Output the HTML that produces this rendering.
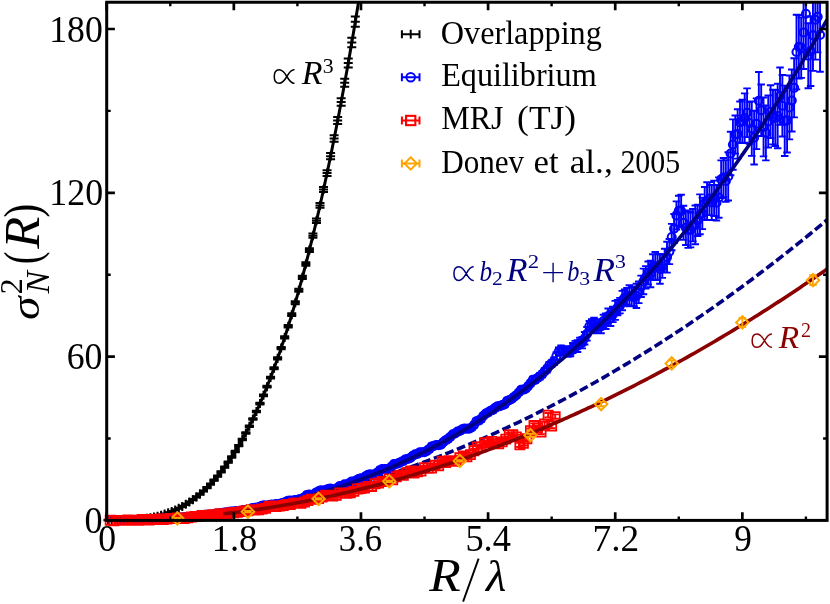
<!DOCTYPE html>
<html><head><meta charset="utf-8"><title>chart</title>
<style>html,body{margin:0;padding:0;background:#fff}svg{display:block;will-change:transform}</style>
</head><body>
<svg width="830" height="604" viewBox="0 0 830 604">
<rect width="830" height="604" fill="#fff"/>
<defs><clipPath id="ax"><rect x="106.7" y="2.24" width="720.4" height="518.16"/></clipPath></defs>
<polyline clip-path="url(#ax)" points="106.7,520.4 110.3,520.39 113.9,520.37 117.51,520.33 121.11,520.28 124.71,520.21 128.31,520.13 131.91,520.03 135.52,519.92 139.12,519.79 142.72,519.65 146.32,519.49 149.92,519.32 153.53,519.13 157.13,518.93 160.73,518.71 164.33,518.48 167.93,518.23 171.54,517.97 175.14,517.69 178.74,517.39 182.34,517.09 185.94,516.76 189.55,516.43 193.15,516.07 196.75,515.7 200.35,515.32 203.95,514.92 207.56,514.51 211.16,514.08 214.76,513.64 218.36,513.18 221.96,512.71 225.57,512.22 229.17,511.72 232.77,511.2 236.37,510.66 239.97,510.12 243.58,509.55 247.18,508.97 250.78,508.38 254.38,507.77 257.98,507.15 261.59,506.51 265.19,505.86 268.79,505.19 272.39,504.5 275.99,503.8 279.6,503.09 283.2,502.36 286.8,501.62 290.4,500.86 294,500.09 297.61,499.3 301.21,498.49 304.81,497.67 308.41,496.84 312.01,495.99 315.62,495.13 319.22,494.25 322.82,493.35 326.42,492.45 330.02,491.52 333.63,490.58 337.23,489.63 340.83,488.66 344.43,487.68 348.03,486.68 351.64,485.66 355.24,484.63 358.84,483.59 362.44,482.53 366.04,481.45 369.65,480.37 373.25,479.26 376.85,478.14 380.45,477.01 384.05,475.86 387.66,474.69 391.26,473.51 394.86,472.32 398.46,471.11 402.06,469.89 405.67,468.65 409.27,467.39 412.87,466.12 416.47,464.84 420.07,463.54 423.68,462.22 427.28,460.89 430.88,459.55 434.48,458.19 438.08,456.81 441.69,455.42 445.29,454.02 448.89,452.6 452.49,451.16 456.09,449.71 459.7,448.25 463.3,446.77 466.9,445.27 470.5,443.76 474.1,442.24 477.71,440.7 481.31,439.14 484.91,437.57 488.51,435.99 492.11,434.39 495.72,432.77 499.32,431.14 502.92,429.5 506.52,427.84 510.12,426.16 513.73,424.47 517.33,422.77 520.93,421.05 524.53,419.31 528.13,417.56 531.74,415.79 535.34,414.01 538.94,412.22 542.54,410.41 546.14,408.58 549.75,406.74 553.35,404.89 556.95,403.02 560.55,401.13 564.15,399.23 567.76,397.31 571.36,395.38 574.96,393.44 578.56,391.48 582.16,389.5 585.77,387.51 589.37,385.5 592.97,383.48 596.57,381.45 600.17,379.4 603.78,377.33 607.38,375.25 610.98,373.15 614.58,371.04 618.18,368.92 621.79,366.78 625.39,364.62 628.99,362.45 632.59,360.26 636.19,358.06 639.8,355.84 643.4,353.61 647,351.37 650.6,349.11 654.2,346.83 657.81,344.54 661.41,342.23 665.01,339.91 668.61,337.57 672.21,335.22 675.82,332.86 679.42,330.47 683.02,328.08 686.62,325.67 690.22,323.24 693.83,320.8 697.43,318.34 701.03,315.87 704.63,313.38 708.23,310.88 711.84,308.37 715.44,305.83 719.04,303.29 722.64,300.72 726.24,298.15 729.85,295.56 733.45,292.95 737.05,290.33 740.65,287.69 744.25,285.04 747.86,282.37 751.46,279.69 755.06,276.99 758.66,274.28 762.26,271.55 765.87,268.81 769.47,266.05 773.07,263.28 776.67,260.5 780.27,257.69 783.88,254.88 787.48,252.04 791.08,249.2 794.68,246.33 798.28,243.46 801.89,240.56 805.49,237.66 809.09,234.73 812.69,231.8 816.29,228.84 819.9,225.88 823.5,222.89 827.1,219.9" fill="none" stroke="#000080" stroke-width="3.6" stroke-dasharray="8.8 3.6"/>
<path clip-path="url(#ax)" d="M108.11 519.8V521M111.64 519.8V521M115.18 519.78V520.98M118.71 519.74V520.94M122.24 519.68V520.88M125.77 519.57V520.77M129.3 519.43V520.63M132.83 519.22V520.42M136.36 518.95V520.15M139.89 518.61V519.81M143.43 518.19V519.39M146.96 517.68V518.88M150.49 517.07V518.27M154.02 516.36V517.56M157.55 515.53V516.73M161.08 514.58V515.78M164.61 513.49V514.7M168.15 512.27V513.47M171.68 510.89V512.1M175.21 509.36V510.57M178.74 507.66V508.87M182.27 505.79V506.99M185.8 503.73V504.94M189.33 501.48V502.69M192.87 499.03V500.24M196.4 496.37V497.59M199.93 493.49V494.71M203.46 490.38V491.61M206.99 487.04V488.28M210.52 483.45V484.7M214.05 479.61V480.87M217.59 475.51V476.78M221.12 471.14V472.43M224.65 466.49V467.79M228.18 461.55V462.87M231.71 456.31V457.66M235.24 450.77V452.15M238.77 444.92V446.32M242.3 438.74V440.18M245.84 432.23V433.71M249.37 425.38V426.91M252.9 418.18V419.76M256.43 410.63V412.26M259.96 402.7V404.4M263.49 394.4V396.17M267.02 385.71V387.57M270.56 376.63V378.58M274.09 367.15V369.19M277.62 357.25V359.41M281.15 346.94V349.22M284.68 336.19V338.61M288.21 325V327.58M291.74 313.37V316.11M295.28 301.27V304.2M298.81 288.71V291.84M302.34 275.68V279.03M305.87 262.15V265.75M309.4 248.14V252M312.93 233.61V237.77M316.46 218.58V223.05M319.99 203.02V207.84M323.53 186.93V192.12M327.06 170.29V175.89M330.59 153.11V159.14M334.12 135.36V141.87M337.65 117.04V124.07M341.18 98.14V105.72M344.71 78.65V86.83M348.25 58.55V67.38M351.78 37.85V47.37M355.31 16.52V26.79" stroke="#000" stroke-width="1.9" fill="none"/>
<path d="M103.61 519.8h9M107.14 519.8h9M110.68 519.78h9M114.21 519.74h9M117.74 519.68h9M121.27 519.57h9M124.8 519.43h9M128.33 519.22h9M131.86 518.95h9M131.86 520.15h9M135.39 518.61h9M135.39 519.81h9M138.93 518.19h9M138.93 519.39h9M142.46 517.68h9M142.46 518.88h9M145.99 517.07h9M145.99 518.27h9M149.52 516.36h9M149.52 517.56h9M153.05 515.53h9M153.05 516.73h9M156.58 514.58h9M156.58 515.78h9M160.11 513.49h9M160.11 514.7h9M163.65 512.27h9M163.65 513.47h9M167.18 510.89h9M167.18 512.1h9M170.71 509.36h9M170.71 510.57h9M174.24 507.66h9M174.24 508.87h9M177.77 505.79h9M177.77 506.99h9M181.3 503.73h9M181.3 504.94h9M184.83 501.48h9M184.83 502.69h9M188.37 499.03h9M188.37 500.24h9M191.9 496.37h9M191.9 497.59h9M195.43 493.49h9M195.43 494.71h9M198.96 490.38h9M198.96 491.61h9M202.49 487.04h9M202.49 488.28h9M206.02 483.45h9M206.02 484.7h9M209.55 479.61h9M209.55 480.87h9M213.09 475.51h9M213.09 476.78h9M216.62 471.14h9M216.62 472.43h9M220.15 466.49h9M220.15 467.79h9M223.68 461.55h9M223.68 462.87h9M227.21 456.31h9M227.21 457.66h9M230.74 450.77h9M230.74 452.15h9M234.27 444.92h9M234.27 446.32h9M237.8 438.74h9M237.8 440.18h9M241.34 432.23h9M241.34 433.71h9M244.87 425.38h9M244.87 426.91h9M248.4 418.18h9M248.4 419.76h9M251.93 410.63h9M251.93 412.26h9M255.46 402.7h9M255.46 404.4h9M258.99 394.4h9M258.99 396.17h9M262.52 385.71h9M262.52 387.57h9M266.06 376.63h9M266.06 378.58h9M269.59 367.15h9M269.59 369.19h9M273.12 357.25h9M273.12 359.41h9M276.65 346.94h9M276.65 349.22h9M280.18 336.19h9M280.18 338.61h9M283.71 325h9M283.71 327.58h9M287.24 313.37h9M287.24 316.11h9M290.78 301.27h9M290.78 304.2h9M294.31 288.71h9M294.31 291.84h9M297.84 275.68h9M297.84 279.03h9M301.37 262.15h9M301.37 265.75h9M304.9 248.14h9M304.9 252h9M308.43 233.61h9M308.43 237.77h9M311.96 218.58h9M311.96 223.05h9M315.49 203.02h9M315.49 207.84h9M319.03 186.93h9M319.03 192.12h9M322.56 170.29h9M322.56 175.89h9M326.09 153.11h9M326.09 159.14h9M329.62 135.36h9M329.62 141.87h9M333.15 117.04h9M333.15 124.07h9M336.68 98.14h9M336.68 105.72h9M340.21 78.65h9M340.21 86.83h9M343.75 58.55h9M343.75 67.38h9M347.28 37.85h9M347.28 47.37h9M350.81 16.52h9M350.81 26.79h9" stroke="#000" stroke-width="2.0" fill="none"/>
<path d="M103.61 520.4h9M108.11 515.9v9M107.14 520.4h9M111.64 515.9v9M110.68 520.38h9M115.18 515.88v9M114.21 520.34h9M118.71 515.84v9M117.74 520.28h9M122.24 515.78v9M121.27 520.17h9M125.77 515.67v9M124.8 520.03h9M129.3 515.53v9M128.33 519.82h9M132.83 515.32v9M131.86 519.55h9M136.36 515.05v9M135.39 519.21h9M139.89 514.71v9M138.93 518.79h9M143.43 514.29v9M142.46 518.28h9M146.96 513.78v9M145.99 517.67h9M150.49 513.17v9M149.52 516.96h9M154.02 512.46v9M153.05 516.13h9M157.55 511.63v9M156.58 515.18h9M161.08 510.68v9M160.11 514.09h9M164.61 509.59v9M163.65 512.87h9M168.15 508.37v9M167.18 511.5h9M171.68 507v9M170.71 509.96h9M175.21 505.46v9M174.24 508.26h9M178.74 503.76v9M177.77 506.39h9M182.27 501.89v9M181.3 504.33h9M185.8 499.83v9M184.83 502.08h9M189.33 497.58v9M188.37 499.64h9M192.87 495.14v9M191.9 496.98h9M196.4 492.48v9M195.43 494.1h9M199.93 489.6v9M198.96 491h9M203.46 486.5v9M202.49 487.66h9M206.99 483.16v9M206.02 484.08h9M210.52 479.58v9M209.55 480.24h9M214.05 475.74v9M213.09 476.15h9M217.59 471.65v9M216.62 471.78h9M221.12 467.28v9M220.15 467.14h9M224.65 462.64v9M223.68 462.21h9M228.18 457.71v9M227.21 456.99h9M231.71 452.49v9M230.74 451.46h9M235.24 446.96v9M234.27 445.62h9M238.77 441.12v9M237.8 439.46h9M242.3 434.96v9M241.34 432.97h9M245.84 428.47v9M244.87 426.14h9M249.37 421.64v9M248.4 418.97h9M252.9 414.47v9M251.93 411.44h9M256.43 406.94v9M255.46 403.55h9M259.96 399.05v9M258.99 395.28h9M263.49 390.78v9M262.52 386.64h9M267.02 382.14v9M266.06 377.6h9M270.56 373.1v9M269.59 368.17h9M274.09 363.67v9M273.12 358.33h9M277.62 353.83v9M276.65 348.08h9M281.15 343.58v9M280.18 337.4h9M284.68 332.9v9M283.71 326.29h9M288.21 321.79v9M287.24 314.74h9M291.74 310.24v9M290.78 302.74h9M295.28 298.24v9M294.31 290.28h9M298.81 285.78v9M297.84 277.35h9M302.34 272.85v9M301.37 263.95h9M305.87 259.45v9M304.9 250.07h9M309.4 245.57v9M308.43 235.69h9M312.93 231.19v9M311.96 220.81h9M316.46 216.31v9M315.49 205.43h9M319.99 200.93v9M319.03 189.52h9M323.53 185.02v9M322.56 173.09h9M327.06 168.59v9M326.09 156.13h9M330.59 151.63v9M329.62 138.62h9M334.12 134.12v9M333.15 120.55h9M337.65 116.05v9M336.68 101.93h9M341.18 97.43v9M340.21 82.74h9M344.71 78.24v9M343.75 62.96h9M348.25 58.46v9M347.28 42.61h9M351.78 38.11v9M350.81 21.65h9M355.31 17.15v9" stroke="#000" stroke-width="2" fill="none"/>
<polyline clip-path="url(#ax)" points="106.7,520.4 107.97,520.4 109.24,520.4 110.51,520.4 111.79,520.4 113.06,520.39 114.33,520.39 115.6,520.38 116.87,520.37 118.14,520.35 119.41,520.33 120.68,520.31 121.96,520.28 123.23,520.25 124.5,520.22 125.77,520.17 127.04,520.13 128.31,520.07 129.58,520.01 130.85,519.94 132.13,519.87 133.4,519.78 134.67,519.69 135.94,519.59 137.21,519.48 138.48,519.36 139.75,519.23 141.02,519.09 142.3,518.94 143.57,518.77 144.84,518.6 146.11,518.41 147.38,518.21 148.65,518 149.92,517.78 151.2,517.54 152.47,517.29 153.74,517.02 155.01,516.74 156.28,516.44 157.55,516.13 158.82,515.8 160.09,515.46 161.37,515.1 162.64,514.72 163.91,514.32 165.18,513.91 166.45,513.48 167.72,513.02 168.99,512.55 170.26,512.06 171.54,511.55 172.81,511.02 174.08,510.47 175.35,509.9 176.62,509.3 177.89,508.69 179.16,508.05 180.44,507.39 181.71,506.7 182.98,505.99 184.25,505.26 185.52,504.51 186.79,503.72 188.06,502.92 189.33,502.08 190.61,501.23 191.88,500.34 193.15,499.43 194.42,498.49 195.69,497.52 196.96,496.53 198.23,495.51 199.5,494.46 200.78,493.38 202.05,492.26 203.32,491.12 204.59,489.95 205.86,488.75 207.13,487.52 208.4,486.25 209.67,484.96 210.95,483.63 212.22,482.27 213.49,480.87 214.76,479.44 216.03,477.98 217.3,476.48 218.57,474.95 219.85,473.38 221.12,471.78 222.39,470.14 223.66,468.47 224.93,466.76 226.2,465.01 227.47,463.22 228.74,461.4 230.02,459.53 231.29,457.63 232.56,455.69 233.83,453.71 235.1,451.69 236.37,449.63 237.64,447.52 238.91,445.38 240.19,443.2 241.46,440.97 242.73,438.7 244,436.39 245.27,434.03 246.54,431.63 247.81,429.19 249.08,426.7 250.36,424.17 251.63,421.59 252.9,418.97 254.17,416.3 255.44,413.59 256.71,410.82 257.98,408.01 259.26,405.16 260.53,402.25 261.8,399.3 263.07,396.3 264.34,393.24 265.61,390.14 266.88,386.99 268.15,383.79 269.43,380.54 270.7,377.23 271.97,373.88 273.24,370.47 274.51,367.01 275.78,363.5 277.05,359.93 278.32,356.31 279.6,352.64 280.87,348.91 282.14,345.13 283.41,341.29 284.68,337.4 285.95,333.45 287.22,329.44 288.5,325.38 289.77,321.26 291.04,317.08 292.31,312.85 293.58,308.55 294.85,304.2 296.12,299.79 297.39,295.32 298.67,290.79 299.94,286.19 301.21,281.54 302.48,276.83 303.75,272.05 305.02,267.21 306.29,262.31 307.56,257.35 308.84,252.32 310.11,247.23 311.38,242.08 312.65,236.86 313.92,231.58 315.19,226.23 316.46,220.81 317.73,215.33 319.01,209.79 320.28,204.17 321.55,198.49 322.82,192.75 324.09,186.93 325.36,181.05 326.63,175.09 327.91,169.07 329.18,162.98 330.45,156.81 331.72,150.58 332.99,144.28 334.26,137.9 335.53,131.46 336.8,124.94 338.08,118.35 339.35,111.68 340.62,104.95 341.89,98.14 343.16,91.25 344.43,84.29 345.7,77.26 346.97,70.15 348.25,62.96 349.52,55.7 350.79,48.37 352.06,40.95 353.33,33.46 354.6,25.89 355.87,18.25 357.14,10.52 358.42,2.72 359.69,-5.17 360.96,-13.13" fill="none" stroke="#000" stroke-width="3.0"/>
<path clip-path="url(#ax)" d="M109.05 517.96V523.09M111.41 517.99V523.13M113.76 518.23V522.94M116.12 517.62V523.27M118.47 518.12V522.68M120.83 517.95V522.43M123.18 517.51V522.95M125.53 517.99V522.43M127.89 517.81V522.52M130.24 517.64V522.78M132.6 517.62V522.85M134.95 517.41V522.86M137.31 516.95V522.92M139.66 517.07V522.6M142.01 517.24V522.11M144.37 517.14V522.18M146.72 516.6V522.51M149.08 517.08V521.83M151.43 516.37V522.31M153.78 516.63V522.03M156.14 516.81V521.36M158.49 516.22V521.83M160.85 516.51V521.09M163.2 516.49V521.19M165.56 516.36V521.08M167.91 515.7V521.12M170.26 515.75V520.5M172.62 515.17V520.84M174.97 515.68V520.43M177.33 514.9V520.33M179.68 515.11V519.86M182.04 514.99V519.92M184.39 515.11V519.67M186.74 514.41V519.77M189.1 514.06V519.97M191.45 513.81V519.58M193.81 513.71V519.55M196.16 514.23V518.95M198.52 513.64V518.37M200.87 513.02V518.38M203.22 513.24V517.72M205.58 512.16V517.68M207.93 512.21V517.56M210.29 511.85V517.4M212.64 511.89V517.18M215 511.66V516.52M217.35 511.38V515.83M219.7 511.04V515.56M222.06 510.29V515.61M224.41 509.71V515.52M226.77 509.7V515.2M229.12 509.45V513.92M231.48 508.72V514.23M233.83 508.82V514.23M236.18 508.66V513.58M238.54 508.6V513.87M240.89 508.17V513.74M243.25 507.23V513.08M245.6 507.03V512.86M247.95 506.49V512.15M250.31 506.17V511.57M252.66 505.35V510.72M255.02 504.72V510.69M257.37 504.96V509.99M259.73 504.31V509.41M262.08 503.04V508.63M264.43 502.64V507.81M266.79 503.78V508.97M269.14 502.7V507.52M271.5 501.73V507.21M273.85 501.81V507.65M276.21 501.03V506.84M278.56 502V506.73M280.91 500.61V506.45M283.27 500.01V505.34M285.62 499.37V504.57M287.98 497.92V503.45M290.33 498.28V502.96M292.69 498.31V503.07M295.04 497.55V502.74M297.39 496.96V502.92M299.75 496.79V501.26M302.1 496.02V501.54M304.46 494.51V500.16M306.81 492.57V497.7M309.17 492.18V496.97M311.52 492.35V497.76M313.87 491.57V497.02M316.23 489.73V495.22M318.58 488.89V493.59M320.94 487.64V493.17M323.29 488.31V493.27M325.65 487.42V492.8M328 486.14V491.79M330.35 485.6V491.47M332.71 486.99V492.12M335.06 487.53V492.53M337.42 485.03V490.69M339.77 483.45V488.88M342.12 484.22V489.91M344.48 482.03V486.78M346.83 482.22V488.17M349.19 480.73V485.65M351.54 479.16V484.12M353.9 478.82V484.1M356.25 478.27V482.73M358.6 476.3V481.97M360.96 475.41V481.06M363.31 475.76V480.99M365.67 473.49V478.99M368.02 471.91V477.81M370.38 471.63V476.87M372.73 472.7V478.11M375.08 471.4V476.69M377.44 469.71V475.45M379.79 467.52V473.27M382.15 466.4V471.72M384.5 466.33V471.53M386.86 466.03V471.96M389.21 466.11V471.78M391.56 463.77V469.27M393.92 461.62V466.68M396.27 461.56V466.4M398.63 460.56V465.66M400.98 459.43V464.6M403.34 458.15V463.53M405.69 456.44V462.08M408.04 456.48V461.25M410.4 455.45V460.42M412.75 452.93V458.49M415.11 451.87V456.68M417.46 451.4V456.5M419.82 449.78V455.03M422.17 449.52V454.93M424.52 449.25V455M426.88 448.46V453.24M429.23 446.23V452.06M431.59 443.55V449.4M433.94 442.98V448.79M436.29 442.22V447.78M438.65 442.31V448.02M441 442.33V446.94M443.36 439.86V444.31M445.71 437.37V443.21M448.07 436.28V441.48M450.42 434.03V439.52M452.77 431.93V436.52M455.13 430.89V436.11M457.48 429.22V433.93M459.84 427.91V433.88M462.19 426.95V431.47M464.55 425.79V431.4M466.9 426.18V431.4M469.25 426.38V430.82M471.61 425.13V429.83M473.96 422.44V427.49M476.32 418.6V423.82M478.67 417.83V423.5M481.03 416.34V421.75M483.38 413.17V418.37M485.73 411.19V416.01M488.09 409.68V415.32M490.44 407.84V413.66M492.8 407.07V412.69M495.15 405.13V410.68M497.51 403.79V408.94M499.86 403.41V408.83M502.21 402.22V408.11M504.57 401.61V407.06M506.92 398.58V403.6M509.28 397.34V402.85M511.63 396.77V401.22M513.98 394.53V399.35M516.34 392.82V397.54M518.69 390.15V394.96M521.05 387.11V392.32M523.4 386.64V392.61M525.76 386.49V391.1M528.11 383.73V388.43M530.46 380.57V386.16M532.82 376.79V382.81M535.17 376.99V382.87M537.53 374.96V380.93M539.88 372.98V379.53M542.24 371.08V377.32M544.59 368.31V374.23M546.94 365.71V372.57M549.3 362.06V368.39M551.65 360.08V366.67M554.01 357.39V365.13M556.36 352.1V360.21M558.72 347.45V355.68M561.07 345.39V354.22M563.42 346.32V355.04M565.78 346.29V355.48M568.13 346.88V356.76M570.49 346.38V356.31M572.84 342.97V353.06M575.2 340.91V351.93M577.55 340.1V351.96M579.9 337.7V348.17M582.26 336.86V348.34M584.61 332.04V344.53M586.97 326.99V340.66M589.32 320.99V331.59M591.68 319.08V331.46M594.03 317.77V330.98M596.38 319.28V333.42M598.74 319.8V333.09M601.09 319.65V333.2M603.45 314.73V327.49M605.8 313.33V328.94M608.15 308.54V323.67M610.51 310.67V325.96M612.86 306.58V322.1M615.22 300.91V319.87M617.57 300.04V315.25M619.93 297.85V313.42M622.28 290.89V310.19M624.63 289.41V305.82M626.99 287.84V304.73M629.34 285.26V306.26M631.7 286.52V306.04M634.05 287.88V306.42M636.41 283.72V307.94M638.76 281.44V303.12M641.11 275.66V296.98M643.47 268.59V294.29M645.82 266.08V288.54M648.18 261.47V284.51M650.53 260.76V287.2M652.89 254.26V279.45M655.24 251.96V280.01M657.59 254.18V279.93M659.95 254.05V283.8M662.3 254.83V277.92M664.66 248.79V272.46M667.01 241.79V272.6M669.37 239.07V264.08M671.72 223.9V250.23M674.07 213.96V243.15M676.43 201.36V229.44M678.78 195.74V225.72M681.14 194.73V227.19M683.49 205.7V239.83M685.85 210.49V245.01M688.2 211.31V247.89M690.55 212.63V247.41M692.91 208.95V241.42M695.26 205.45V244.27M697.62 204.81V236.16M699.97 194.35V234.27M702.32 197.62V229.08M704.68 187.03V219.72M707.03 182.3V220M709.39 182.15V215.14M711.74 184.97V219.95M714.1 180.63V216.06M716.45 185.05V220.45M718.8 177.35V217.82M721.16 160.41V198.04M723.51 158.05V197.29M725.87 160.17V201.81M728.22 152.29V200.53M730.58 131.69V175.27M732.93 119.36V169.73M735.28 115.53V153.59M737.64 109.28V158.63M739.99 101.48V142.77M742.35 99.6V142.97M744.7 93.35V142.78M747.06 88.36V137.08M749.41 102.16V143.8M751.76 101.33V155.86M754.12 110.74V164.51M756.47 98.35V149.13M758.83 71.97V129.61M761.18 84.47V136M763.54 97.51V156.41M765.89 105.48V160.36M768.24 95.41V147.56M770.6 85.28V138.12M772.95 89.79V144.34M775.31 90.02V145.99M777.66 83.76V148.22M780.02 67.5V124.84M782.37 74.93V136.5M784.72 85.66V156M787.08 88.13V152.5M789.43 75.55V139.41M791.79 69.54V131.49M794.14 58.28V117.39M796.49 14.7V89.39M798.85 15.06V78.53M801.2 17.38V77.88M803.56 -4.1V68.97M805.91 -24.61V52.2M808.27 23.3V88.24M810.62 16.24V85.98M812.97 -0.26V70.91M815.33 -20.09V59.61M817.68 -18.66V52.38M820.04 -1.87V71.74" stroke="#00f" stroke-width="1.9" fill="none"/>
<path d="M105.3 517.96h7.5M107.66 517.99h7.5M110.01 518.23h7.5M112.37 517.62h7.5M114.72 518.12h7.5M117.08 517.95h7.5M119.43 517.51h7.5M121.78 517.99h7.5M124.14 517.81h7.5M126.49 517.64h7.5M128.85 517.62h7.5M131.2 517.41h7.5M133.56 516.95h7.5M135.91 517.07h7.5M138.26 517.24h7.5M140.62 517.14h7.5M142.97 516.6h7.5M145.33 517.08h7.5M147.68 516.37h7.5M150.03 516.63h7.5M152.39 516.81h7.5M154.74 516.22h7.5M157.1 516.51h7.5M159.45 516.49h7.5M161.81 516.36h7.5M164.16 515.7h7.5M166.51 515.75h7.5M168.87 515.17h7.5M171.22 515.68h7.5M173.58 514.9h7.5M173.58 520.33h7.5M175.93 515.11h7.5M175.93 519.86h7.5M178.29 514.99h7.5M178.29 519.92h7.5M180.64 515.11h7.5M180.64 519.67h7.5M182.99 514.41h7.5M182.99 519.77h7.5M185.35 514.06h7.5M185.35 519.97h7.5M187.7 513.81h7.5M187.7 519.58h7.5M190.06 513.71h7.5M190.06 519.55h7.5M192.41 514.23h7.5M192.41 518.95h7.5M194.77 513.64h7.5M194.77 518.37h7.5M197.12 513.02h7.5M197.12 518.38h7.5M199.47 513.24h7.5M199.47 517.72h7.5M201.83 512.16h7.5M201.83 517.68h7.5M204.18 512.21h7.5M204.18 517.56h7.5M206.54 511.85h7.5M206.54 517.4h7.5M208.89 511.89h7.5M208.89 517.18h7.5M211.25 511.66h7.5M211.25 516.52h7.5M213.6 511.38h7.5M213.6 515.83h7.5M215.95 511.04h7.5M215.95 515.56h7.5M218.31 510.29h7.5M218.31 515.61h7.5M220.66 509.71h7.5M220.66 515.52h7.5M223.02 509.7h7.5M223.02 515.2h7.5M225.37 509.45h7.5M225.37 513.92h7.5M227.73 508.72h7.5M227.73 514.23h7.5M230.08 508.82h7.5M230.08 514.23h7.5M232.43 508.66h7.5M232.43 513.58h7.5M234.79 508.6h7.5M234.79 513.87h7.5M237.14 508.17h7.5M237.14 513.74h7.5M239.5 507.23h7.5M239.5 513.08h7.5M241.85 507.03h7.5M241.85 512.86h7.5M244.2 506.49h7.5M244.2 512.15h7.5M246.56 506.17h7.5M246.56 511.57h7.5M248.91 505.35h7.5M248.91 510.72h7.5M251.27 504.72h7.5M251.27 510.69h7.5M253.62 504.96h7.5M253.62 509.99h7.5M255.98 504.31h7.5M255.98 509.41h7.5M258.33 503.04h7.5M258.33 508.63h7.5M260.68 502.64h7.5M260.68 507.81h7.5M263.04 503.78h7.5M263.04 508.97h7.5M265.39 502.7h7.5M265.39 507.52h7.5M267.75 501.73h7.5M267.75 507.21h7.5M270.1 501.81h7.5M270.1 507.65h7.5M272.46 501.03h7.5M272.46 506.84h7.5M274.81 502h7.5M274.81 506.73h7.5M277.16 500.61h7.5M277.16 506.45h7.5M279.52 500.01h7.5M279.52 505.34h7.5M281.87 499.37h7.5M281.87 504.57h7.5M284.23 497.92h7.5M284.23 503.45h7.5M286.58 498.28h7.5M286.58 502.96h7.5M288.94 498.31h7.5M288.94 503.07h7.5M291.29 497.55h7.5M291.29 502.74h7.5M293.64 496.96h7.5M293.64 502.92h7.5M296 496.79h7.5M296 501.26h7.5M298.35 496.02h7.5M298.35 501.54h7.5M300.71 494.51h7.5M300.71 500.16h7.5M303.06 492.57h7.5M303.06 497.7h7.5M305.42 492.18h7.5M305.42 496.97h7.5M307.77 492.35h7.5M307.77 497.76h7.5M310.12 491.57h7.5M310.12 497.02h7.5M312.48 489.73h7.5M312.48 495.22h7.5M314.83 488.89h7.5M314.83 493.59h7.5M317.19 487.64h7.5M317.19 493.17h7.5M319.54 488.31h7.5M319.54 493.27h7.5M321.9 487.42h7.5M321.9 492.8h7.5M324.25 486.14h7.5M324.25 491.79h7.5M326.6 485.6h7.5M326.6 491.47h7.5M328.96 486.99h7.5M328.96 492.12h7.5M331.31 487.53h7.5M331.31 492.53h7.5M333.67 485.03h7.5M333.67 490.69h7.5M336.02 483.45h7.5M336.02 488.88h7.5M338.37 484.22h7.5M338.37 489.91h7.5M340.73 482.03h7.5M340.73 486.78h7.5M343.08 482.22h7.5M343.08 488.17h7.5M345.44 480.73h7.5M345.44 485.65h7.5M347.79 479.16h7.5M347.79 484.12h7.5M350.15 478.82h7.5M350.15 484.1h7.5M352.5 478.27h7.5M352.5 482.73h7.5M354.85 476.3h7.5M354.85 481.97h7.5M357.21 475.41h7.5M357.21 481.06h7.5M359.56 475.76h7.5M359.56 480.99h7.5M361.92 473.49h7.5M361.92 478.99h7.5M364.27 471.91h7.5M364.27 477.81h7.5M366.63 471.63h7.5M366.63 476.87h7.5M368.98 472.7h7.5M368.98 478.11h7.5M371.33 471.4h7.5M371.33 476.69h7.5M373.69 469.71h7.5M373.69 475.45h7.5M376.04 467.52h7.5M376.04 473.27h7.5M378.4 466.4h7.5M378.4 471.72h7.5M380.75 466.33h7.5M380.75 471.53h7.5M383.11 466.03h7.5M383.11 471.96h7.5M385.46 466.11h7.5M385.46 471.78h7.5M387.81 463.77h7.5M387.81 469.27h7.5M390.17 461.62h7.5M390.17 466.68h7.5M392.52 461.56h7.5M392.52 466.4h7.5M394.88 460.56h7.5M394.88 465.66h7.5M397.23 459.43h7.5M397.23 464.6h7.5M399.59 458.15h7.5M399.59 463.53h7.5M401.94 456.44h7.5M401.94 462.08h7.5M404.29 456.48h7.5M404.29 461.25h7.5M406.65 455.45h7.5M406.65 460.42h7.5M409 452.93h7.5M409 458.49h7.5M411.36 451.87h7.5M411.36 456.68h7.5M413.71 451.4h7.5M413.71 456.5h7.5M416.07 449.78h7.5M416.07 455.03h7.5M418.42 449.52h7.5M418.42 454.93h7.5M420.77 449.25h7.5M420.77 455h7.5M423.13 448.46h7.5M423.13 453.24h7.5M425.48 446.23h7.5M425.48 452.06h7.5M427.84 443.55h7.5M427.84 449.4h7.5M430.19 442.98h7.5M430.19 448.79h7.5M432.54 442.22h7.5M432.54 447.78h7.5M434.9 442.31h7.5M434.9 448.02h7.5M437.25 442.33h7.5M437.25 446.94h7.5M439.61 439.86h7.5M439.61 444.31h7.5M441.96 437.37h7.5M441.96 443.21h7.5M444.32 436.28h7.5M444.32 441.48h7.5M446.67 434.03h7.5M446.67 439.52h7.5M449.02 431.93h7.5M449.02 436.52h7.5M451.38 430.89h7.5M451.38 436.11h7.5M453.73 429.22h7.5M453.73 433.93h7.5M456.09 427.91h7.5M456.09 433.88h7.5M458.44 426.95h7.5M458.44 431.47h7.5M460.8 425.79h7.5M460.8 431.4h7.5M463.15 426.18h7.5M463.15 431.4h7.5M465.5 426.38h7.5M465.5 430.82h7.5M467.86 425.13h7.5M467.86 429.83h7.5M470.21 422.44h7.5M470.21 427.49h7.5M472.57 418.6h7.5M472.57 423.82h7.5M474.92 417.83h7.5M474.92 423.5h7.5M477.28 416.34h7.5M477.28 421.75h7.5M479.63 413.17h7.5M479.63 418.37h7.5M481.98 411.19h7.5M481.98 416.01h7.5M484.34 409.68h7.5M484.34 415.32h7.5M486.69 407.84h7.5M486.69 413.66h7.5M489.05 407.07h7.5M489.05 412.69h7.5M491.4 405.13h7.5M491.4 410.68h7.5M493.76 403.79h7.5M493.76 408.94h7.5M496.11 403.41h7.5M496.11 408.83h7.5M498.46 402.22h7.5M498.46 408.11h7.5M500.82 401.61h7.5M500.82 407.06h7.5M503.17 398.58h7.5M503.17 403.6h7.5M505.53 397.34h7.5M505.53 402.85h7.5M507.88 396.77h7.5M507.88 401.22h7.5M510.23 394.53h7.5M510.23 399.35h7.5M512.59 392.82h7.5M512.59 397.54h7.5M514.94 390.15h7.5M514.94 394.96h7.5M517.3 387.11h7.5M517.3 392.32h7.5M519.65 386.64h7.5M519.65 392.61h7.5M522.01 386.49h7.5M522.01 391.1h7.5M524.36 383.73h7.5M524.36 388.43h7.5M526.71 380.57h7.5M526.71 386.16h7.5M529.07 376.79h7.5M529.07 382.81h7.5M531.42 376.99h7.5M531.42 382.87h7.5M533.78 374.96h7.5M533.78 380.93h7.5M536.13 372.98h7.5M536.13 379.53h7.5M538.49 371.08h7.5M538.49 377.32h7.5M540.84 368.31h7.5M540.84 374.23h7.5M543.19 365.71h7.5M543.19 372.57h7.5M545.55 362.06h7.5M545.55 368.39h7.5M547.9 360.08h7.5M547.9 366.67h7.5M550.26 357.39h7.5M550.26 365.13h7.5M552.61 352.1h7.5M552.61 360.21h7.5M554.97 347.45h7.5M554.97 355.68h7.5M557.32 345.39h7.5M557.32 354.22h7.5M559.67 346.32h7.5M559.67 355.04h7.5M562.03 346.29h7.5M562.03 355.48h7.5M564.38 346.88h7.5M564.38 356.76h7.5M566.74 346.38h7.5M566.74 356.31h7.5M569.09 342.97h7.5M569.09 353.06h7.5M571.45 340.91h7.5M571.45 351.93h7.5M573.8 340.1h7.5M573.8 351.96h7.5M576.15 337.7h7.5M576.15 348.17h7.5M578.51 336.86h7.5M578.51 348.34h7.5M580.86 332.04h7.5M580.86 344.53h7.5M583.22 326.99h7.5M583.22 340.66h7.5M585.57 320.99h7.5M585.57 331.59h7.5M587.93 319.08h7.5M587.93 331.46h7.5M590.28 317.77h7.5M590.28 330.98h7.5M592.63 319.28h7.5M592.63 333.42h7.5M594.99 319.8h7.5M594.99 333.09h7.5M597.34 319.65h7.5M597.34 333.2h7.5M599.7 314.73h7.5M599.7 327.49h7.5M602.05 313.33h7.5M602.05 328.94h7.5M604.4 308.54h7.5M604.4 323.67h7.5M606.76 310.67h7.5M606.76 325.96h7.5M609.11 306.58h7.5M609.11 322.1h7.5M611.47 300.91h7.5M611.47 319.87h7.5M613.82 300.04h7.5M613.82 315.25h7.5M616.18 297.85h7.5M616.18 313.42h7.5M618.53 290.89h7.5M618.53 310.19h7.5M620.88 289.41h7.5M620.88 305.82h7.5M623.24 287.84h7.5M623.24 304.73h7.5M625.59 285.26h7.5M625.59 306.26h7.5M627.95 286.52h7.5M627.95 306.04h7.5M630.3 287.88h7.5M630.3 306.42h7.5M632.66 283.72h7.5M632.66 307.94h7.5M635.01 281.44h7.5M635.01 303.12h7.5M637.36 275.66h7.5M637.36 296.98h7.5M639.72 268.59h7.5M639.72 294.29h7.5M642.07 266.08h7.5M642.07 288.54h7.5M644.43 261.47h7.5M644.43 284.51h7.5M646.78 260.76h7.5M646.78 287.2h7.5M649.14 254.26h7.5M649.14 279.45h7.5M651.49 251.96h7.5M651.49 280.01h7.5M653.84 254.18h7.5M653.84 279.93h7.5M656.2 254.05h7.5M656.2 283.8h7.5M658.55 254.83h7.5M658.55 277.92h7.5M660.91 248.79h7.5M660.91 272.46h7.5M663.26 241.79h7.5M663.26 272.6h7.5M665.62 239.07h7.5M665.62 264.08h7.5M667.97 223.9h7.5M667.97 250.23h7.5M670.32 213.96h7.5M670.32 243.15h7.5M672.68 201.36h7.5M672.68 229.44h7.5M675.03 195.74h7.5M675.03 225.72h7.5M677.39 194.73h7.5M677.39 227.19h7.5M679.74 205.7h7.5M679.74 239.83h7.5M682.1 210.49h7.5M682.1 245.01h7.5M684.45 211.31h7.5M684.45 247.89h7.5M686.8 212.63h7.5M686.8 247.41h7.5M689.16 208.95h7.5M689.16 241.42h7.5M691.51 205.45h7.5M691.51 244.27h7.5M693.87 204.81h7.5M693.87 236.16h7.5M696.22 194.35h7.5M696.22 234.27h7.5M698.57 197.62h7.5M698.57 229.08h7.5M700.93 187.03h7.5M700.93 219.72h7.5M703.28 182.3h7.5M703.28 220h7.5M705.64 182.15h7.5M705.64 215.14h7.5M707.99 184.97h7.5M707.99 219.95h7.5M710.35 180.63h7.5M710.35 216.06h7.5M712.7 185.05h7.5M712.7 220.45h7.5M715.05 177.35h7.5M715.05 217.82h7.5M717.41 160.41h7.5M717.41 198.04h7.5M719.76 158.05h7.5M719.76 197.29h7.5M722.12 160.17h7.5M722.12 201.81h7.5M724.47 152.29h7.5M724.47 200.53h7.5M726.83 131.69h7.5M726.83 175.27h7.5M729.18 119.36h7.5M729.18 169.73h7.5M731.53 115.53h7.5M731.53 153.59h7.5M733.89 109.28h7.5M733.89 158.63h7.5M736.24 101.48h7.5M736.24 142.77h7.5M738.6 99.6h7.5M738.6 142.97h7.5M740.95 93.35h7.5M740.95 142.78h7.5M743.31 88.36h7.5M743.31 137.08h7.5M745.66 102.16h7.5M745.66 143.8h7.5M748.01 101.33h7.5M748.01 155.86h7.5M750.37 110.74h7.5M750.37 164.51h7.5M752.72 98.35h7.5M752.72 149.13h7.5M755.08 71.97h7.5M755.08 129.61h7.5M757.43 84.47h7.5M757.43 136h7.5M759.79 97.51h7.5M759.79 156.41h7.5M762.14 105.48h7.5M762.14 160.36h7.5M764.49 95.41h7.5M764.49 147.56h7.5M766.85 85.28h7.5M766.85 138.12h7.5M769.2 89.79h7.5M769.2 144.34h7.5M771.56 90.02h7.5M771.56 145.99h7.5M773.91 83.76h7.5M773.91 148.22h7.5M776.27 67.5h7.5M776.27 124.84h7.5M778.62 74.93h7.5M778.62 136.5h7.5M780.97 85.66h7.5M780.97 156h7.5M783.33 88.13h7.5M783.33 152.5h7.5M785.68 75.55h7.5M785.68 139.41h7.5M788.04 69.54h7.5M788.04 131.49h7.5M790.39 58.28h7.5M790.39 117.39h7.5M792.74 14.7h7.5M792.74 89.39h7.5M795.1 15.06h7.5M795.1 78.53h7.5M797.45 17.38h7.5M797.45 77.88h7.5M799.81 68.97h7.5M802.16 52.2h7.5M804.52 23.3h7.5M804.52 88.24h7.5M806.87 16.24h7.5M806.87 85.98h7.5M809.22 70.91h7.5M811.58 59.61h7.5M813.93 52.38h7.5M816.29 71.74h7.5" stroke="#00f" stroke-width="1.9" fill="none"/>
<g fill="none" stroke="#00f" stroke-width="2"><circle cx="118.47" cy="520.4" r="4.05"/><circle cx="120.83" cy="520.19" r="4.05"/><circle cx="123.18" cy="520.23" r="4.05"/><circle cx="125.53" cy="520.21" r="4.05"/><circle cx="127.89" cy="520.16" r="4.05"/><circle cx="130.24" cy="520.21" r="4.05"/><circle cx="132.6" cy="520.23" r="4.05"/><circle cx="134.95" cy="520.14" r="4.05"/><circle cx="137.31" cy="519.94" r="4.05"/><circle cx="139.66" cy="519.84" r="4.05"/><circle cx="142.01" cy="519.67" r="4.05"/><circle cx="144.37" cy="519.66" r="4.05"/><circle cx="146.72" cy="519.56" r="4.05"/><circle cx="149.08" cy="519.46" r="4.05"/><circle cx="151.43" cy="519.34" r="4.05"/><circle cx="153.78" cy="519.33" r="4.05"/><circle cx="156.14" cy="519.09" r="4.05"/><circle cx="158.49" cy="519.03" r="4.05"/><circle cx="160.85" cy="518.8" r="4.05"/><circle cx="163.2" cy="518.84" r="4.05"/><circle cx="165.56" cy="518.72" r="4.05"/><circle cx="167.91" cy="518.41" r="4.05"/><circle cx="170.26" cy="518.13" r="4.05"/><circle cx="172.62" cy="518.01" r="4.05"/><circle cx="174.97" cy="518.05" r="4.05"/><circle cx="177.33" cy="517.61" r="4.05"/><circle cx="179.68" cy="517.48" r="4.05"/><circle cx="182.04" cy="517.45" r="4.05"/><circle cx="184.39" cy="517.39" r="4.05"/><circle cx="186.74" cy="517.09" r="4.05"/><circle cx="189.1" cy="517.02" r="4.05"/><circle cx="191.45" cy="516.69" r="4.05"/><circle cx="193.81" cy="516.63" r="4.05"/><circle cx="196.16" cy="516.59" r="4.05"/><circle cx="198.52" cy="516.01" r="4.05"/><circle cx="200.87" cy="515.7" r="4.05"/><circle cx="203.22" cy="515.48" r="4.05"/><circle cx="205.58" cy="514.92" r="4.05"/><circle cx="207.93" cy="514.89" r="4.05"/><circle cx="210.29" cy="514.62" r="4.05"/><circle cx="212.64" cy="514.54" r="4.05"/><circle cx="215" cy="514.09" r="4.05"/><circle cx="217.35" cy="513.6" r="4.05"/><circle cx="219.7" cy="513.3" r="4.05"/><circle cx="222.06" cy="512.95" r="4.05"/><circle cx="224.41" cy="512.62" r="4.05"/><circle cx="226.77" cy="512.45" r="4.05"/><circle cx="229.12" cy="511.68" r="4.05"/><circle cx="231.48" cy="511.47" r="4.05"/><circle cx="233.83" cy="511.52" r="4.05"/><circle cx="236.18" cy="511.12" r="4.05"/><circle cx="238.54" cy="511.23" r="4.05"/><circle cx="240.89" cy="510.96" r="4.05"/><circle cx="243.25" cy="510.15" r="4.05"/><circle cx="245.6" cy="509.94" r="4.05"/><circle cx="247.95" cy="509.32" r="4.05"/><circle cx="250.31" cy="508.87" r="4.05"/><circle cx="252.66" cy="508.03" r="4.05"/><circle cx="255.02" cy="507.7" r="4.05"/><circle cx="257.37" cy="507.48" r="4.05"/><circle cx="259.73" cy="506.86" r="4.05"/><circle cx="262.08" cy="505.83" r="4.05"/><circle cx="264.43" cy="505.23" r="4.05"/><circle cx="266.79" cy="506.38" r="4.05"/><circle cx="269.14" cy="505.11" r="4.05"/><circle cx="271.5" cy="504.47" r="4.05"/><circle cx="273.85" cy="504.73" r="4.05"/><circle cx="276.21" cy="503.93" r="4.05"/><circle cx="278.56" cy="504.36" r="4.05"/><circle cx="280.91" cy="503.53" r="4.05"/><circle cx="283.27" cy="502.68" r="4.05"/><circle cx="285.62" cy="501.97" r="4.05"/><circle cx="287.98" cy="500.68" r="4.05"/><circle cx="290.33" cy="500.62" r="4.05"/><circle cx="292.69" cy="500.69" r="4.05"/><circle cx="295.04" cy="500.15" r="4.05"/><circle cx="297.39" cy="499.94" r="4.05"/><circle cx="299.75" cy="499.03" r="4.05"/><circle cx="302.1" cy="498.78" r="4.05"/><circle cx="304.46" cy="497.33" r="4.05"/><circle cx="306.81" cy="495.13" r="4.05"/><circle cx="309.17" cy="494.58" r="4.05"/><circle cx="311.52" cy="495.05" r="4.05"/><circle cx="313.87" cy="494.3" r="4.05"/><circle cx="316.23" cy="492.47" r="4.05"/><circle cx="318.58" cy="491.24" r="4.05"/><circle cx="320.94" cy="490.4" r="4.05"/><circle cx="323.29" cy="490.79" r="4.05"/><circle cx="325.65" cy="490.11" r="4.05"/><circle cx="328" cy="488.97" r="4.05"/><circle cx="330.35" cy="488.53" r="4.05"/><circle cx="332.71" cy="489.55" r="4.05"/><circle cx="335.06" cy="490.03" r="4.05"/><circle cx="337.42" cy="487.86" r="4.05"/><circle cx="339.77" cy="486.16" r="4.05"/><circle cx="342.12" cy="487.07" r="4.05"/><circle cx="344.48" cy="484.4" r="4.05"/><circle cx="346.83" cy="485.19" r="4.05"/><circle cx="349.19" cy="483.19" r="4.05"/><circle cx="351.54" cy="481.64" r="4.05"/><circle cx="353.9" cy="481.46" r="4.05"/><circle cx="356.25" cy="480.5" r="4.05"/><circle cx="358.6" cy="479.13" r="4.05"/><circle cx="360.96" cy="478.24" r="4.05"/><circle cx="363.31" cy="478.38" r="4.05"/><circle cx="365.67" cy="476.24" r="4.05"/><circle cx="368.02" cy="474.86" r="4.05"/><circle cx="370.38" cy="474.25" r="4.05"/><circle cx="372.73" cy="475.41" r="4.05"/><circle cx="375.08" cy="474.05" r="4.05"/><circle cx="377.44" cy="472.58" r="4.05"/><circle cx="379.79" cy="470.4" r="4.05"/><circle cx="382.15" cy="469.06" r="4.05"/><circle cx="384.5" cy="468.93" r="4.05"/><circle cx="386.86" cy="469" r="4.05"/><circle cx="389.21" cy="468.94" r="4.05"/><circle cx="391.56" cy="466.52" r="4.05"/><circle cx="393.92" cy="464.15" r="4.05"/><circle cx="396.27" cy="463.98" r="4.05"/><circle cx="398.63" cy="463.11" r="4.05"/><circle cx="400.98" cy="462.01" r="4.05"/><circle cx="403.34" cy="460.84" r="4.05"/><circle cx="405.69" cy="459.26" r="4.05"/><circle cx="408.04" cy="458.86" r="4.05"/><circle cx="410.4" cy="457.93" r="4.05"/><circle cx="412.75" cy="455.71" r="4.05"/><circle cx="415.11" cy="454.28" r="4.05"/><circle cx="417.46" cy="453.95" r="4.05"/><circle cx="419.82" cy="452.41" r="4.05"/><circle cx="422.17" cy="452.22" r="4.05"/><circle cx="424.52" cy="452.13" r="4.05"/><circle cx="426.88" cy="450.85" r="4.05"/><circle cx="429.23" cy="449.15" r="4.05"/><circle cx="431.59" cy="446.48" r="4.05"/><circle cx="433.94" cy="445.88" r="4.05"/><circle cx="436.29" cy="445" r="4.05"/><circle cx="438.65" cy="445.17" r="4.05"/><circle cx="441" cy="444.64" r="4.05"/><circle cx="443.36" cy="442.09" r="4.05"/><circle cx="445.71" cy="440.29" r="4.05"/><circle cx="448.07" cy="438.88" r="4.05"/><circle cx="450.42" cy="436.77" r="4.05"/><circle cx="452.77" cy="434.23" r="4.05"/><circle cx="455.13" cy="433.5" r="4.05"/><circle cx="457.48" cy="431.58" r="4.05"/><circle cx="459.84" cy="430.9" r="4.05"/><circle cx="462.19" cy="429.21" r="4.05"/><circle cx="464.55" cy="428.59" r="4.05"/><circle cx="466.9" cy="428.79" r="4.05"/><circle cx="469.25" cy="428.6" r="4.05"/><circle cx="471.61" cy="427.48" r="4.05"/><circle cx="473.96" cy="424.97" r="4.05"/><circle cx="476.32" cy="421.21" r="4.05"/><circle cx="478.67" cy="420.67" r="4.05"/><circle cx="481.03" cy="419.05" r="4.05"/><circle cx="483.38" cy="415.77" r="4.05"/><circle cx="485.73" cy="413.6" r="4.05"/><circle cx="488.09" cy="412.5" r="4.05"/><circle cx="490.44" cy="410.75" r="4.05"/><circle cx="492.8" cy="409.88" r="4.05"/><circle cx="495.15" cy="407.9" r="4.05"/><circle cx="497.51" cy="406.37" r="4.05"/><circle cx="499.86" cy="406.12" r="4.05"/><circle cx="502.21" cy="405.17" r="4.05"/><circle cx="504.57" cy="404.33" r="4.05"/><circle cx="506.92" cy="401.09" r="4.05"/><circle cx="509.28" cy="400.09" r="4.05"/><circle cx="511.63" cy="399" r="4.05"/><circle cx="513.98" cy="396.94" r="4.05"/><circle cx="516.34" cy="395.18" r="4.05"/><circle cx="518.69" cy="392.55" r="4.05"/><circle cx="521.05" cy="389.71" r="4.05"/><circle cx="523.4" cy="389.63" r="4.05"/><circle cx="525.76" cy="388.79" r="4.05"/><circle cx="528.11" cy="386.08" r="4.05"/><circle cx="530.46" cy="383.37" r="4.05"/><circle cx="532.82" cy="379.8" r="4.05"/><circle cx="535.17" cy="379.93" r="4.05"/><circle cx="537.53" cy="377.95" r="4.05"/><circle cx="539.88" cy="376.25" r="4.05"/><circle cx="542.24" cy="374.2" r="4.05"/><circle cx="544.59" cy="371.27" r="4.05"/><circle cx="546.94" cy="369.14" r="4.05"/><circle cx="549.3" cy="365.22" r="4.05"/><circle cx="551.65" cy="363.37" r="4.05"/><circle cx="554.01" cy="361.26" r="4.05"/><circle cx="556.36" cy="356.15" r="4.05"/><circle cx="558.72" cy="351.56" r="4.05"/><circle cx="561.07" cy="349.81" r="4.05"/><circle cx="563.42" cy="350.68" r="4.05"/><circle cx="565.78" cy="350.88" r="4.05"/><circle cx="568.13" cy="351.82" r="4.05"/><circle cx="570.49" cy="351.34" r="4.05"/><circle cx="572.84" cy="348.02" r="4.05"/><circle cx="575.2" cy="346.42" r="4.05"/><circle cx="577.55" cy="346.03" r="4.05"/><circle cx="579.9" cy="342.93" r="4.05"/><circle cx="582.26" cy="342.6" r="4.05"/><circle cx="584.61" cy="338.28" r="4.05"/><circle cx="586.97" cy="333.83" r="4.05"/><circle cx="589.32" cy="326.29" r="4.05"/><circle cx="591.68" cy="325.27" r="4.05"/><circle cx="594.03" cy="324.38" r="4.05"/><circle cx="596.38" cy="326.35" r="4.05"/><circle cx="598.74" cy="326.44" r="4.05"/><circle cx="601.09" cy="326.43" r="4.05"/><circle cx="603.45" cy="321.11" r="4.05"/><circle cx="605.8" cy="321.14" r="4.05"/><circle cx="608.15" cy="316.1" r="4.05"/><circle cx="610.51" cy="318.31" r="4.05"/><circle cx="612.86" cy="314.34" r="4.05"/><circle cx="615.22" cy="310.39" r="4.05"/><circle cx="617.57" cy="307.65" r="4.05"/><circle cx="619.93" cy="305.64" r="4.05"/><circle cx="622.28" cy="300.54" r="4.05"/><circle cx="624.63" cy="297.62" r="4.05"/><circle cx="626.99" cy="296.28" r="4.05"/><circle cx="629.34" cy="295.76" r="4.05"/><circle cx="631.7" cy="296.28" r="4.05"/><circle cx="634.05" cy="297.15" r="4.05"/><circle cx="636.41" cy="295.83" r="4.05"/><circle cx="638.76" cy="292.28" r="4.05"/><circle cx="641.11" cy="286.32" r="4.05"/><circle cx="643.47" cy="281.44" r="4.05"/><circle cx="645.82" cy="277.31" r="4.05"/><circle cx="648.18" cy="272.99" r="4.05"/><circle cx="650.53" cy="273.98" r="4.05"/><circle cx="652.89" cy="266.85" r="4.05"/><circle cx="655.24" cy="265.98" r="4.05"/><circle cx="657.59" cy="267.05" r="4.05"/><circle cx="659.95" cy="268.93" r="4.05"/><circle cx="662.3" cy="266.37" r="4.05"/><circle cx="664.66" cy="260.63" r="4.05"/><circle cx="667.01" cy="257.19" r="4.05"/><circle cx="669.37" cy="251.57" r="4.05"/><circle cx="671.72" cy="237.07" r="4.05"/><circle cx="674.07" cy="228.56" r="4.05"/><circle cx="676.43" cy="215.4" r="4.05"/><circle cx="678.78" cy="210.73" r="4.05"/><circle cx="681.14" cy="210.96" r="4.05"/><circle cx="683.49" cy="222.76" r="4.05"/><circle cx="685.85" cy="227.75" r="4.05"/><circle cx="688.2" cy="229.6" r="4.05"/><circle cx="690.55" cy="230.02" r="4.05"/><circle cx="692.91" cy="225.18" r="4.05"/><circle cx="695.26" cy="224.86" r="4.05"/><circle cx="697.62" cy="220.49" r="4.05"/><circle cx="699.97" cy="214.31" r="4.05"/><circle cx="702.32" cy="213.35" r="4.05"/><circle cx="704.68" cy="203.37" r="4.05"/><circle cx="707.03" cy="201.15" r="4.05"/><circle cx="709.39" cy="198.65" r="4.05"/><circle cx="711.74" cy="202.46" r="4.05"/><circle cx="714.1" cy="198.34" r="4.05"/><circle cx="716.45" cy="202.75" r="4.05"/><circle cx="718.8" cy="197.58" r="4.05"/><circle cx="721.16" cy="179.23" r="4.05"/><circle cx="723.51" cy="177.67" r="4.05"/><circle cx="725.87" cy="180.99" r="4.05"/><circle cx="728.22" cy="176.41" r="4.05"/><circle cx="730.58" cy="153.48" r="4.05"/><circle cx="732.93" cy="144.54" r="4.05"/><circle cx="735.28" cy="134.56" r="4.05"/><circle cx="737.64" cy="133.95" r="4.05"/><circle cx="739.99" cy="122.13" r="4.05"/><circle cx="742.35" cy="121.28" r="4.05"/><circle cx="744.7" cy="118.07" r="4.05"/><circle cx="747.06" cy="112.72" r="4.05"/><circle cx="749.41" cy="122.98" r="4.05"/><circle cx="751.76" cy="128.59" r="4.05"/><circle cx="754.12" cy="137.62" r="4.05"/><circle cx="756.47" cy="123.74" r="4.05"/><circle cx="758.83" cy="100.79" r="4.05"/><circle cx="761.18" cy="110.24" r="4.05"/><circle cx="763.54" cy="126.96" r="4.05"/><circle cx="765.89" cy="132.92" r="4.05"/><circle cx="768.24" cy="121.48" r="4.05"/><circle cx="770.6" cy="111.7" r="4.05"/><circle cx="772.95" cy="117.07" r="4.05"/><circle cx="775.31" cy="118" r="4.05"/><circle cx="777.66" cy="115.99" r="4.05"/><circle cx="780.02" cy="96.17" r="4.05"/><circle cx="782.37" cy="105.71" r="4.05"/><circle cx="784.72" cy="120.83" r="4.05"/><circle cx="787.08" cy="120.31" r="4.05"/><circle cx="789.43" cy="107.48" r="4.05"/><circle cx="791.79" cy="100.51" r="4.05"/><circle cx="794.14" cy="87.83" r="4.05"/><circle cx="796.49" cy="52.05" r="4.05"/><circle cx="798.85" cy="46.8" r="4.05"/><circle cx="801.2" cy="47.63" r="4.05"/><circle cx="803.56" cy="32.43" r="4.05"/><circle cx="805.91" cy="13.79" r="4.05"/><circle cx="808.27" cy="55.77" r="4.05"/><circle cx="810.62" cy="51.11" r="4.05"/><circle cx="812.97" cy="35.32" r="4.05"/><circle cx="815.33" cy="19.76" r="4.05"/><circle cx="817.68" cy="16.86" r="4.05"/><circle cx="820.04" cy="34.94" r="4.05"/></g>
<polyline clip-path="url(#ax)" points="212.64,514.45 215.71,514.08 218.79,513.69 221.86,513.29 224.93,512.87 228,512.44 231.07,512 234.15,511.55 237.22,511.08 240.29,510.59 243.36,510.1 246.44,509.59 249.51,509.06 252.58,508.52 255.65,507.97 258.73,507.4 261.8,506.82 264.87,506.22 267.94,505.61 271.01,504.98 274.09,504.34 277.16,503.68 280.23,503 283.3,502.31 286.38,501.61 289.45,500.89 292.52,500.15 295.59,499.4 298.67,498.63 301.74,497.85 304.81,497.04 307.88,496.23 310.95,495.39 314.03,494.54 317.1,493.67 320.17,492.79 323.24,491.88 326.32,490.96 329.39,490.03 332.46,489.07 335.53,488.1 338.61,487.11 341.68,486.1 344.75,485.07 347.82,484.03 350.89,482.97 353.97,481.89 357.04,480.79 360.11,479.67 363.18,478.53 366.26,477.38 369.33,476.2 372.4,475.01 375.47,473.79 378.55,472.56 381.62,471.31 384.69,470.04 387.76,468.75 390.83,467.44 393.91,466.11 396.98,464.75 400.05,463.38 403.12,461.99 406.2,460.58 409.27,459.15 412.34,457.69 415.41,456.22 418.48,454.72 421.56,453.21 424.63,451.67 427.7,450.11 430.77,448.53 433.85,446.93 436.92,445.3 439.99,443.66 443.06,441.99 446.14,440.3 449.21,438.59 452.28,436.86 455.35,435.1 458.42,433.32 461.5,431.52 464.57,429.69 467.64,427.85 470.71,425.97 473.79,424.08 476.86,422.16 479.93,420.22 483,418.26 486.08,416.27 489.15,414.26 492.22,412.22 495.29,410.16 498.36,408.08 501.44,405.97 504.51,403.84 507.58,401.68 510.65,399.5 513.73,397.29 516.8,395.06 519.87,392.81 522.94,390.53 526.02,388.22 529.09,385.89 532.16,383.53 535.23,381.15 538.3,378.74 541.38,376.3 544.45,373.84 547.52,371.35 550.59,368.84 553.67,366.3 556.74,363.73 559.81,361.14 562.88,358.52 565.95,355.87 569.03,353.2 572.1,350.5 575.17,347.77 578.24,345.01 581.32,342.23 584.39,339.42 587.46,336.58 590.53,333.72 593.61,330.82 596.68,327.9 599.75,324.95 602.82,321.97 605.89,318.96 608.97,315.93 612.04,312.86 615.11,309.77 618.18,306.65 621.26,303.49 624.33,300.31 627.4,297.1 630.47,293.86 633.55,290.59 636.62,287.29 639.69,283.97 642.76,280.61 645.83,277.22 648.91,273.8 651.98,270.35 655.05,266.87 658.12,263.36 661.2,259.82 664.27,256.24 667.34,252.64 670.41,249.01 673.49,245.34 676.56,241.65 679.63,237.92 682.7,234.16 685.77,230.37 688.85,226.54 691.92,222.69 694.99,218.8 698.06,214.88 701.14,210.93 704.21,206.95 707.28,202.93 710.35,198.88 713.43,194.8 716.5,190.68 719.57,186.53 722.64,182.35 725.71,178.14 728.79,173.89 731.86,169.61 734.93,165.29 738,160.95 741.08,156.56 744.15,152.15 747.22,147.7 750.29,143.21 753.36,138.69 756.44,134.14 759.51,129.55 762.58,124.92 765.65,120.26 768.73,115.57 771.8,110.84 774.87,106.08 777.94,101.28 781.02,96.44 784.09,91.57 787.16,86.67 790.23,81.73 793.3,76.75 796.38,71.73 799.45,66.68 802.52,61.6 805.59,56.47 808.67,51.31 811.74,46.12 814.81,40.88 817.88,35.61 820.96,30.3 824.03,24.96 827.1,19.58" fill="none" stroke="#000080" stroke-width="3.6"/>
<path clip-path="url(#ax)" d="M110.23 518.79V521.79M113.76 519.3V522.3M117.29 518.89V521.89M120.83 518.84V521.84M124.36 518.88V521.89M127.89 518.44V521.44M131.42 518.69V521.69M134.95 518.63V521.63M138.48 518.67V521.68M142.01 518.03V521.04M145.55 518.02V521.03M149.08 518.6V521.61M152.61 518.01V521.03M156.14 517.83V520.85M159.67 517.46V520.48M163.2 518.05V521.07M166.73 517.44V520.46M170.26 517.02V520.05M173.8 516.89V519.92M177.33 516.47V519.5M180.86 516.45V519.49M184.39 516.96V520M187.92 516.24V519.29M191.45 515.45V518.5M194.98 514.97V518.03M198.52 515V518.06M202.05 513.97V517.03M205.58 514.31V517.38M209.11 513.73V516.81M212.64 513.27V516.35M216.17 513.04V516.12M219.7 512.13V515.22M223.24 512.4V515.49M226.77 512.22V515.33M230.3 511.08V514.19M233.83 511.19V514.31M237.36 510.79V513.91M240.89 510.06V513.19M244.42 509.4V512.53M247.95 509.21V512.35M251.49 508.18V511.33M255.02 508.51V511.67M258.55 508.24V511.4M262.08 507.36V510.53M265.61 506.68V509.86M269.14 504.88V508.07M272.67 504.47V507.67M276.21 504.93V508.13M279.74 504.52V507.73M283.27 503.86V507.08M286.8 502.86V506.09M290.33 502.88V506.12M293.86 501.45V504.7M297.39 501.43V504.69M300.93 501.54V504.81M304.46 500.35V503.63M307.99 498.81V502.1M311.52 497.67V500.97M315.05 497.57V500.88M318.58 496.92V500.23M322.11 495.39V498.72M325.65 493.62V496.96M329.18 493.77V497.12M332.71 494.38V497.74M336.24 493.59V496.96M339.77 491.33V494.72M343.3 491.65V495.04M346.83 491.54V494.95M350.36 491.03V494.45M353.9 489.65V493.08M357.43 487.3V490.74M360.96 486.8V490.26M364.49 486.32V489.79M368.02 484.74V488.22M371.55 484.68V488.18M375.08 481.98V485.49M378.62 481.18V484.7M382.15 479.62V483.15M385.68 479.66V483.21M389.21 477.2V480.76M392.74 478.02V481.6M396.27 474.89V478.48M399.8 473.49V477.1M403.34 473.43V477.06M406.87 470.95V474.58M410.4 469.23V472.88M413.93 471.27V474.94M417.46 469.86V473.54M420.99 469.31V473.01M424.52 465.93V469.64M428.05 466.34V470.07M431.59 466.28V470.03M435.12 463.43V467.19M438.65 463.86V467.64M442.18 459.2V463M445.71 460.57V464.38M449.24 458.73V462.56M452.77 459.44V463.29M456.31 458.81V462.68M459.84 455.68V459.56M463.37 454V457.9M466.9 454.92V458.84M470.43 452.61V456.55M473.96 448.79V452.75M477.49 444.95V448.92M481.03 444.75V448.74M484.56 440.66V444.67M488.09 440.65V444.68M491.62 439.33V443.37M495.15 441.63V445.7M498.68 441.71V445.79M502.21 439.79V443.9M505.75 437.08V441.2M509.28 432.9V437.05M512.81 432.54V436.71M516.34 434.77V438.95M519.87 442.81V447.02M523.4 441.22V445.45M526.93 436.6V440.85M530.46 428.46V432.73M534 423.4V427.69M537.53 425.72V430.03M541.06 429.95V434.28M544.59 421.77V426.13M548.12 413.03V417.41M551.65 423.77V428.17M555.18 414.37V418.79" stroke="#f00" stroke-width="1.9" fill="none"/>
<path d="M106.48 518.79h7.5M110.01 519.3h7.5M113.54 518.89h7.5M117.08 518.84h7.5M120.61 518.88h7.5M124.14 518.44h7.5M127.67 518.69h7.5M131.2 518.63h7.5M134.73 518.67h7.5M138.26 518.03h7.5M141.8 518.02h7.5M145.33 518.6h7.5M148.86 518.01h7.5M152.39 517.83h7.5M155.92 517.46h7.5M159.45 518.05h7.5M162.98 517.44h7.5M166.51 517.02h7.5M166.51 520.05h7.5M170.05 516.89h7.5M170.05 519.92h7.5M173.58 516.47h7.5M173.58 519.5h7.5M177.11 516.45h7.5M177.11 519.49h7.5M180.64 516.96h7.5M180.64 520h7.5M184.17 516.24h7.5M184.17 519.29h7.5M187.7 515.45h7.5M187.7 518.5h7.5M191.23 514.97h7.5M191.23 518.03h7.5M194.77 515h7.5M194.77 518.06h7.5M198.3 513.97h7.5M198.3 517.03h7.5M201.83 514.31h7.5M201.83 517.38h7.5M205.36 513.73h7.5M205.36 516.81h7.5M208.89 513.27h7.5M208.89 516.35h7.5M212.42 513.04h7.5M212.42 516.12h7.5M215.95 512.13h7.5M215.95 515.22h7.5M219.49 512.4h7.5M219.49 515.49h7.5M223.02 512.22h7.5M223.02 515.33h7.5M226.55 511.08h7.5M226.55 514.19h7.5M230.08 511.19h7.5M230.08 514.31h7.5M233.61 510.79h7.5M233.61 513.91h7.5M237.14 510.06h7.5M237.14 513.19h7.5M240.67 509.4h7.5M240.67 512.53h7.5M244.2 509.21h7.5M244.2 512.35h7.5M247.74 508.18h7.5M247.74 511.33h7.5M251.27 508.51h7.5M251.27 511.67h7.5M254.8 508.24h7.5M254.8 511.4h7.5M258.33 507.36h7.5M258.33 510.53h7.5M261.86 506.68h7.5M261.86 509.86h7.5M265.39 504.88h7.5M265.39 508.07h7.5M268.92 504.47h7.5M268.92 507.67h7.5M272.46 504.93h7.5M272.46 508.13h7.5M275.99 504.52h7.5M275.99 507.73h7.5M279.52 503.86h7.5M279.52 507.08h7.5M283.05 502.86h7.5M283.05 506.09h7.5M286.58 502.88h7.5M286.58 506.12h7.5M290.11 501.45h7.5M290.11 504.7h7.5M293.64 501.43h7.5M293.64 504.69h7.5M297.18 501.54h7.5M297.18 504.81h7.5M300.71 500.35h7.5M300.71 503.63h7.5M304.24 498.81h7.5M304.24 502.1h7.5M307.77 497.67h7.5M307.77 500.97h7.5M311.3 497.57h7.5M311.3 500.88h7.5M314.83 496.92h7.5M314.83 500.23h7.5M318.36 495.39h7.5M318.36 498.72h7.5M321.9 493.62h7.5M321.9 496.96h7.5M325.43 493.77h7.5M325.43 497.12h7.5M328.96 494.38h7.5M328.96 497.74h7.5M332.49 493.59h7.5M332.49 496.96h7.5M336.02 491.33h7.5M336.02 494.72h7.5M339.55 491.65h7.5M339.55 495.04h7.5M343.08 491.54h7.5M343.08 494.95h7.5M346.61 491.03h7.5M346.61 494.45h7.5M350.15 489.65h7.5M350.15 493.08h7.5M353.68 487.3h7.5M353.68 490.74h7.5M357.21 486.8h7.5M357.21 490.26h7.5M360.74 486.32h7.5M360.74 489.79h7.5M364.27 484.74h7.5M364.27 488.22h7.5M367.8 484.68h7.5M367.8 488.18h7.5M371.33 481.98h7.5M371.33 485.49h7.5M374.87 481.18h7.5M374.87 484.7h7.5M378.4 479.62h7.5M378.4 483.15h7.5M381.93 479.66h7.5M381.93 483.21h7.5M385.46 477.2h7.5M385.46 480.76h7.5M388.99 478.02h7.5M388.99 481.6h7.5M392.52 474.89h7.5M392.52 478.48h7.5M396.05 473.49h7.5M396.05 477.1h7.5M399.59 473.43h7.5M399.59 477.06h7.5M403.12 470.95h7.5M403.12 474.58h7.5M406.65 469.23h7.5M406.65 472.88h7.5M410.18 471.27h7.5M410.18 474.94h7.5M413.71 469.86h7.5M413.71 473.54h7.5M417.24 469.31h7.5M417.24 473.01h7.5M420.77 465.93h7.5M420.77 469.64h7.5M424.3 466.34h7.5M424.3 470.07h7.5M427.84 466.28h7.5M427.84 470.03h7.5M431.37 463.43h7.5M431.37 467.19h7.5M434.9 463.86h7.5M434.9 467.64h7.5M438.43 459.2h7.5M438.43 463h7.5M441.96 460.57h7.5M441.96 464.38h7.5M445.49 458.73h7.5M445.49 462.56h7.5M449.02 459.44h7.5M449.02 463.29h7.5M452.56 458.81h7.5M452.56 462.68h7.5M456.09 455.68h7.5M456.09 459.56h7.5M459.62 454h7.5M459.62 457.9h7.5M463.15 454.92h7.5M463.15 458.84h7.5M466.68 452.61h7.5M466.68 456.55h7.5M470.21 448.79h7.5M470.21 452.75h7.5M473.74 444.95h7.5M473.74 448.92h7.5M477.28 444.75h7.5M477.28 448.74h7.5M480.81 440.66h7.5M480.81 444.67h7.5M484.34 440.65h7.5M484.34 444.68h7.5M487.87 439.33h7.5M487.87 443.37h7.5M491.4 441.63h7.5M491.4 445.7h7.5M494.93 441.71h7.5M494.93 445.79h7.5M498.46 439.79h7.5M498.46 443.9h7.5M502 437.08h7.5M502 441.2h7.5M505.53 432.9h7.5M505.53 437.05h7.5M509.06 432.54h7.5M509.06 436.71h7.5M512.59 434.77h7.5M512.59 438.95h7.5M516.12 442.81h7.5M516.12 447.02h7.5M519.65 441.22h7.5M519.65 445.45h7.5M523.18 436.6h7.5M523.18 440.85h7.5M526.71 428.46h7.5M526.71 432.73h7.5M530.25 423.4h7.5M530.25 427.69h7.5M533.78 425.72h7.5M533.78 430.03h7.5M537.31 429.95h7.5M537.31 434.28h7.5M540.84 421.77h7.5M540.84 426.13h7.5M544.37 413.03h7.5M544.37 417.41h7.5M547.9 423.77h7.5M547.9 428.17h7.5M551.43 414.37h7.5M551.43 418.79h7.5" stroke="#f00" stroke-width="1.9" fill="none"/>
<path d="M105.68 515.74h9.1v9.1h-9.1zM109.21 516.25h9.1v9.1h-9.1zM112.74 515.84h9.1v9.1h-9.1zM116.28 515.79h9.1v9.1h-9.1zM119.81 515.83h9.1v9.1h-9.1zM123.34 515.39h9.1v9.1h-9.1zM126.87 515.64h9.1v9.1h-9.1zM130.4 515.58h9.1v9.1h-9.1zM133.93 515.63h9.1v9.1h-9.1zM137.46 514.99h9.1v9.1h-9.1zM141 514.98h9.1v9.1h-9.1zM144.53 515.55h9.1v9.1h-9.1zM148.06 514.97h9.1v9.1h-9.1zM151.59 514.79h9.1v9.1h-9.1zM155.12 514.42h9.1v9.1h-9.1zM158.65 515.01h9.1v9.1h-9.1zM162.18 514.4h9.1v9.1h-9.1zM165.71 513.99h9.1v9.1h-9.1zM169.25 513.86h9.1v9.1h-9.1zM172.78 513.43h9.1v9.1h-9.1zM176.31 513.42h9.1v9.1h-9.1zM179.84 513.93h9.1v9.1h-9.1zM183.37 513.22h9.1v9.1h-9.1zM186.9 512.43h9.1v9.1h-9.1zM190.43 511.95h9.1v9.1h-9.1zM193.97 511.98h9.1v9.1h-9.1zM197.5 510.95h9.1v9.1h-9.1zM201.03 511.3h9.1v9.1h-9.1zM204.56 510.72h9.1v9.1h-9.1zM208.09 510.26h9.1v9.1h-9.1zM211.62 510.03h9.1v9.1h-9.1zM215.15 509.13h9.1v9.1h-9.1zM218.69 509.39h9.1v9.1h-9.1zM222.22 509.22h9.1v9.1h-9.1zM225.75 508.08h9.1v9.1h-9.1zM229.28 508.2h9.1v9.1h-9.1zM232.81 507.8h9.1v9.1h-9.1zM236.34 507.07h9.1v9.1h-9.1zM239.87 506.42h9.1v9.1h-9.1zM243.4 506.23h9.1v9.1h-9.1zM246.94 505.2h9.1v9.1h-9.1zM250.47 505.54h9.1v9.1h-9.1zM254 505.27h9.1v9.1h-9.1zM257.53 504.4h9.1v9.1h-9.1zM261.06 503.72h9.1v9.1h-9.1zM264.59 501.92h9.1v9.1h-9.1zM268.12 501.52h9.1v9.1h-9.1zM271.66 501.98h9.1v9.1h-9.1zM275.19 501.58h9.1v9.1h-9.1zM278.72 500.92h9.1v9.1h-9.1zM282.25 499.92h9.1v9.1h-9.1zM285.78 499.95h9.1v9.1h-9.1zM289.31 498.53h9.1v9.1h-9.1zM292.84 498.51h9.1v9.1h-9.1zM296.38 498.63h9.1v9.1h-9.1zM299.91 497.44h9.1v9.1h-9.1zM303.44 495.91h9.1v9.1h-9.1zM306.97 494.77h9.1v9.1h-9.1zM310.5 494.67h9.1v9.1h-9.1zM314.03 494.03h9.1v9.1h-9.1zM317.56 492.5h9.1v9.1h-9.1zM321.1 490.74h9.1v9.1h-9.1zM324.63 490.89h9.1v9.1h-9.1zM328.16 491.51h9.1v9.1h-9.1zM331.69 490.73h9.1v9.1h-9.1zM335.22 488.47h9.1v9.1h-9.1zM338.75 488.79h9.1v9.1h-9.1zM342.28 488.69h9.1v9.1h-9.1zM345.81 488.19h9.1v9.1h-9.1zM349.35 486.81h9.1v9.1h-9.1zM352.88 484.47h9.1v9.1h-9.1zM356.41 483.98h9.1v9.1h-9.1zM359.94 483.51h9.1v9.1h-9.1zM363.47 481.93h9.1v9.1h-9.1zM367 481.88h9.1v9.1h-9.1zM370.53 479.19h9.1v9.1h-9.1zM374.07 478.39h9.1v9.1h-9.1zM377.6 476.83h9.1v9.1h-9.1zM381.13 476.89h9.1v9.1h-9.1zM384.66 474.43h9.1v9.1h-9.1zM388.19 475.26h9.1v9.1h-9.1zM391.72 472.14h9.1v9.1h-9.1zM395.25 470.74h9.1v9.1h-9.1zM398.79 470.7h9.1v9.1h-9.1zM402.32 468.22h9.1v9.1h-9.1zM405.85 466.51h9.1v9.1h-9.1zM409.38 468.56h9.1v9.1h-9.1zM412.91 467.15h9.1v9.1h-9.1zM416.44 466.61h9.1v9.1h-9.1zM419.97 463.23h9.1v9.1h-9.1zM423.5 463.66h9.1v9.1h-9.1zM427.04 463.6h9.1v9.1h-9.1zM430.57 460.76h9.1v9.1h-9.1zM434.1 461.2h9.1v9.1h-9.1zM437.63 456.55h9.1v9.1h-9.1zM441.16 457.93h9.1v9.1h-9.1zM444.69 456.1h9.1v9.1h-9.1zM448.22 456.81h9.1v9.1h-9.1zM451.76 456.19h9.1v9.1h-9.1zM455.29 453.07h9.1v9.1h-9.1zM458.82 451.4h9.1v9.1h-9.1zM462.35 452.33h9.1v9.1h-9.1zM465.88 450.03h9.1v9.1h-9.1zM469.41 446.22h9.1v9.1h-9.1zM472.94 442.39h9.1v9.1h-9.1zM476.48 442.2h9.1v9.1h-9.1zM480.01 438.11h9.1v9.1h-9.1zM483.54 438.12h9.1v9.1h-9.1zM487.07 436.8h9.1v9.1h-9.1zM490.6 439.12h9.1v9.1h-9.1zM494.13 439.2h9.1v9.1h-9.1zM497.66 437.29h9.1v9.1h-9.1zM501.2 434.59h9.1v9.1h-9.1zM504.73 430.43h9.1v9.1h-9.1zM508.26 430.08h9.1v9.1h-9.1zM511.79 432.31h9.1v9.1h-9.1zM515.32 440.36h9.1v9.1h-9.1zM518.85 438.78h9.1v9.1h-9.1zM522.38 434.17h9.1v9.1h-9.1zM525.91 426.04h9.1v9.1h-9.1zM529.45 421h9.1v9.1h-9.1zM532.98 423.33h9.1v9.1h-9.1zM536.51 427.57h9.1v9.1h-9.1zM540.04 419.4h9.1v9.1h-9.1zM543.57 410.67h9.1v9.1h-9.1zM547.1 421.42h9.1v9.1h-9.1zM550.63 412.03h9.1v9.1h-9.1z" fill="none" stroke="#f00" stroke-width="1.8"/>
<polyline clip-path="url(#ax)" points="223.24,513.82 226.25,513.48 229.27,513.12 232.29,512.76 235.31,512.39 238.33,512.01 241.35,511.62 244.37,511.22 247.39,510.81 250.41,510.4 253.43,509.97 256.45,509.54 259.47,509.1 262.49,508.65 265.51,508.19 268.53,507.72 271.54,507.24 274.56,506.75 277.58,506.26 280.6,505.75 283.62,505.24 286.64,504.72 289.66,504.19 292.68,503.65 295.7,503.1 298.72,502.54 301.74,501.98 304.76,501.4 307.78,500.82 310.8,500.22 313.81,499.62 316.83,499.01 319.85,498.39 322.87,497.77 325.89,497.13 328.91,496.48 331.93,495.83 334.95,495.17 337.97,494.49 340.99,493.81 344.01,493.12 347.03,492.43 350.05,491.72 353.07,491 356.09,490.28 359.1,489.54 362.12,488.8 365.14,488.05 368.16,487.29 371.18,486.52 374.2,485.74 377.22,484.95 380.24,484.16 383.26,483.35 386.28,482.54 389.3,481.72 392.32,480.89 395.34,480.05 398.36,479.2 401.38,478.34 404.39,477.48 407.41,476.6 410.43,475.72 413.45,474.82 416.47,473.92 419.49,473.01 422.51,472.09 425.53,471.16 428.55,470.23 431.57,469.28 434.59,468.33 437.61,467.36 440.63,466.39 443.65,465.41 446.67,464.42 449.68,463.42 452.7,462.41 455.72,461.4 458.74,460.37 461.76,459.34 464.78,458.3 467.8,457.24 470.82,456.18 473.84,455.11 476.86,454.04 479.88,452.95 482.9,451.85 485.92,450.75 488.94,449.63 491.96,448.51 494.97,447.38 497.99,446.24 501.01,445.09 504.03,443.93 507.05,442.77 510.07,441.59 513.09,440.41 516.11,439.22 519.13,438.01 522.15,436.8 525.17,435.58 528.19,434.35 531.21,433.12 534.23,431.87 537.24,430.62 540.26,429.35 543.28,428.08 546.3,426.8 549.32,425.51 552.34,424.21 555.36,422.9 558.38,421.59 561.4,420.26 564.42,418.93 567.44,417.58 570.46,416.23 573.48,414.87 576.5,413.5 579.52,412.12 582.53,410.73 585.55,409.34 588.57,407.93 591.59,406.52 594.61,405.1 597.63,403.67 600.65,402.22 603.67,400.78 606.69,399.32 609.71,397.85 612.73,396.38 615.75,394.89 618.77,393.4 621.79,391.9 624.81,390.38 627.82,388.86 630.84,387.34 633.86,385.8 636.88,384.25 639.9,382.7 642.92,381.13 645.94,379.56 648.96,377.98 651.98,376.39 655,374.79 658.02,373.18 661.04,371.56 664.06,369.94 667.08,368.3 670.1,366.66 673.11,365.01 676.13,363.35 679.15,361.68 682.17,360 685.19,358.31 688.21,356.61 691.23,354.91 694.25,353.2 697.27,351.47 700.29,349.74 703.31,348 706.33,346.25 709.35,344.49 712.37,342.73 715.39,340.95 718.4,339.17 721.42,337.37 724.44,335.57 727.46,333.76 730.48,331.94 733.5,330.11 736.52,328.27 739.54,326.42 742.56,324.57 745.58,322.71 748.6,320.83 751.62,318.95 754.64,317.06 757.66,315.16 760.67,313.25 763.69,311.33 766.71,309.41 769.73,307.47 772.75,305.53 775.77,303.58 778.79,301.62 781.81,299.65 784.83,297.67 787.85,295.68 790.87,293.68 793.89,291.68 796.91,289.66 799.93,287.64 802.95,285.61 805.96,283.57 808.98,281.52 812,279.46 815.02,277.39 818.04,275.32 821.06,273.23 824.08,271.14 827.1,269.03" fill="none" stroke="#8b0000" stroke-width="3.6"/>
<path clip-path="url(#ax)" d="M177.33 517.89V519.09M247.95 511.06V512.26M318.58 498.23V499.43M389.21 480.76V481.96M459.84 460.19V461.59M530.46 433.72V436.72M601.09 401.9V406.3M671.72 360.42V366.42M742.35 317.97V326.98M812.97 275.16V285.16" stroke="#ffa500" stroke-width="1.9" fill="none"/>
<path d="M173.58 517.89h7.5M173.58 519.09h7.5M244.2 511.06h7.5M244.2 512.26h7.5M314.83 498.23h7.5M314.83 499.43h7.5M385.46 480.76h7.5M385.46 481.96h7.5M456.09 460.19h7.5M456.09 461.59h7.5M526.71 433.72h7.5M526.71 436.72h7.5M597.34 401.9h7.5M597.34 406.3h7.5M667.97 360.42h7.5M667.97 366.42h7.5M738.6 317.97h7.5M738.6 326.98h7.5M809.22 275.16h7.5M809.22 285.16h7.5" stroke="#ffa500" stroke-width="1.9" fill="none"/>
<path d="M177.33 512.29l6.2 6.2l-6.2 6.2l-6.2 -6.2zM247.95 505.46l6.2 6.2l-6.2 6.2l-6.2 -6.2zM318.58 492.63l6.2 6.2l-6.2 6.2l-6.2 -6.2zM389.21 475.16l6.2 6.2l-6.2 6.2l-6.2 -6.2zM459.84 454.69l6.2 6.2l-6.2 6.2l-6.2 -6.2zM530.46 429.02l6.2 6.2l-6.2 6.2l-6.2 -6.2zM601.09 397.9l6.2 6.2l-6.2 6.2l-6.2 -6.2zM671.72 357.22l6.2 6.2l-6.2 6.2l-6.2 -6.2zM742.35 316.27l6.2 6.2l-6.2 6.2l-6.2 -6.2zM812.97 273.96l6.2 6.2l-6.2 6.2l-6.2 -6.2z" fill="none" stroke="#ffa500" stroke-width="2"/>
<path d="M106.7 520.4v-8.2M106.7 2.24v8M233.83 520.4v-8.2M233.83 2.24v8M360.96 520.4v-8.2M360.96 2.24v8M488.09 520.4v-8.2M488.09 2.24v8M615.22 520.4v-8.2M615.22 2.24v8M742.35 520.4v-8.2M742.35 2.24v8M106.7 356.6h8.2M827.1 356.6h-8.2M106.7 192.8h8.2M827.1 192.8h-8.2M106.7 29h8.2M827.1 29h-8.2" stroke="#000" stroke-width="2.7" fill="none"/>
<path d="M170.26 520.4v-4M170.26 2.24v4M297.39 520.4v-4M297.39 2.24v4M424.52 520.4v-4M424.52 2.24v4M551.65 520.4v-4M551.65 2.24v4M678.78 520.4v-4M678.78 2.24v4M805.91 520.4v-4M805.91 2.24v4M106.7 438.5h4M827.1 438.5h-4M106.7 274.7h4M827.1 274.7h-4M106.7 110.9h4M827.1 110.9h-4" stroke="#000" stroke-width="2.4" fill="none"/>
<rect x="106.7" y="2.24" width="720.4" height="518.16" fill="none" stroke="#000" stroke-width="3"/>
<g font-family="Liberation Serif, serif" fill="#000" style="font-kerning:none">
<text x="98.24" y="550.80" font-size="37.5" textLength="17.81" lengthAdjust="spacingAndGlyphs">0</text>
<text x="211.69" y="550.80" font-size="37.5" textLength="45.60" lengthAdjust="spacingAndGlyphs">1.8</text>
<text x="338.84" y="550.80" font-size="37.5" textLength="43.40" lengthAdjust="spacingAndGlyphs">3.6</text>
<text x="465.39" y="550.80" font-size="37.5" textLength="45.48" lengthAdjust="spacingAndGlyphs">5.4</text>
<text x="592.44" y="550.80" font-size="37.5" textLength="46.73" lengthAdjust="spacingAndGlyphs">7.2</text>
<text x="734.27" y="550.80" font-size="37.5" textLength="17.57" lengthAdjust="spacingAndGlyphs">9</text>
<text x="84.53" y="532.90" font-size="37.5" textLength="18.05" lengthAdjust="spacingAndGlyphs">0</text>
<text x="66.77" y="369.10" font-size="37.5" textLength="35.69" lengthAdjust="spacingAndGlyphs">60</text>
<text x="49.35" y="205.30" font-size="37.5" textLength="53.71" lengthAdjust="spacingAndGlyphs">120</text>
<text x="49.27" y="41.50" font-size="37.5" textLength="53.49" lengthAdjust="spacingAndGlyphs">180</text>
<text x="440.78" y="43.60" font-size="33" textLength="161.03" lengthAdjust="spacingAndGlyphs">Overlapping</text>
<text x="441.17" y="85.80" font-size="33" textLength="155.53" lengthAdjust="spacingAndGlyphs">Equilibrium</text>
<text x="441.18" y="129.10" font-size="33" textLength="62.40" lengthAdjust="spacingAndGlyphs">MRJ</text>
<text x="517.14" y="129.10" font-size="33" textLength="59.01" lengthAdjust="spacingAndGlyphs">(TJ)</text>
<text x="441.20" y="172.60" font-size="33" textLength="83.00" lengthAdjust="spacingAndGlyphs">Donev</text>
<text x="533.64" y="172.60" font-size="33" textLength="25.06" lengthAdjust="spacingAndGlyphs">et</text>
<text x="569.76" y="172.60" font-size="33" textLength="42.95" lengthAdjust="spacingAndGlyphs">al.,</text>
<text x="620.39" y="172.60" font-size="33" textLength="59.78" lengthAdjust="spacingAndGlyphs">2005</text>
</g>
<g font-family="Liberation Serif, serif" style="font-kerning:none">
<path d="M293.95 69.75C291.19 69.75 288.83 73.12 286.86 76.50C284.49 80.55 282.13 83.25 279.18 83.25C276.02 83.25 274.25 80.28 274.25 76.50C274.25 72.72 276.02 69.75 279.18 69.75C282.13 69.75 284.49 72.45 286.86 76.50C288.83 79.88 291.19 83.25 293.95 83.25" fill="none" stroke="#000" stroke-width="1.5" stroke-linecap="round"/>
<text x="301.78" y="83.70" font-size="33" font-style="italic" fill="#000" textLength="20.78" lengthAdjust="spacingAndGlyphs">R</text>
<text x="322.86" y="72.70" font-size="21.8" fill="#000" textLength="10.89" lengthAdjust="spacingAndGlyphs">3</text>
<path d="M771.45 334.05C768.75 334.05 766.43 337.38 764.50 340.70C762.19 344.69 759.87 347.35 756.98 347.35C753.89 347.35 752.15 344.42 752.15 340.70C752.15 336.98 753.89 334.05 756.98 334.05C759.87 334.05 762.19 336.71 764.50 340.70C766.43 344.03 768.75 347.35 771.45 347.35" fill="none" stroke="#8b0000" stroke-width="1.5" stroke-linecap="round"/>
<text x="778.68" y="347.80" font-size="32.5" font-style="italic" fill="#8b0000" textLength="20.37" lengthAdjust="spacingAndGlyphs">R</text>
<text x="801.12" y="336.60" font-size="20.5" fill="#8b0000" textLength="9.98" lengthAdjust="spacingAndGlyphs">2</text>
<path d="M473.15 266.75C470.46 266.75 468.16 270.18 466.24 273.60C463.93 277.71 461.63 280.45 458.75 280.45C455.68 280.45 453.95 277.44 453.95 273.60C453.95 269.76 455.68 266.75 458.75 266.75C461.63 266.75 463.93 269.49 466.24 273.60C468.16 277.03 470.46 280.45 473.15 280.45" fill="none" stroke="#000080" stroke-width="1.5" stroke-linecap="round"/>
<text x="479.57" y="280.90" font-size="30.4" font-style="italic" fill="#000080" textLength="12.60" lengthAdjust="spacingAndGlyphs">b</text>
<text x="492.06" y="284.80" font-size="19.5" fill="#000080" textLength="10.73" lengthAdjust="spacingAndGlyphs">2</text>
<text x="506.58" y="280.90" font-size="32.7" font-style="italic" fill="#000080" textLength="20.99" lengthAdjust="spacingAndGlyphs">R</text>
<text x="527.70" y="267.90" font-size="19" fill="#000080" textLength="11.35" lengthAdjust="spacingAndGlyphs">2</text>
<path d="M543.2 272.6h19.8M553.1 262.8v19.5" stroke="#000080" stroke-width="1.35" fill="none"/>
<text x="567.20" y="280.90" font-size="30.4" font-style="italic" fill="#000080" textLength="12.14" lengthAdjust="spacingAndGlyphs">b</text>
<text x="579.16" y="285.00" font-size="19.5" fill="#000080" textLength="10.89" lengthAdjust="spacingAndGlyphs">3</text>
<text x="593.59" y="280.90" font-size="32.7" font-style="italic" fill="#000080" textLength="21.50" lengthAdjust="spacingAndGlyphs">R</text>
<text x="614.96" y="267.70" font-size="18.5" fill="#000080" textLength="10.89" lengthAdjust="spacingAndGlyphs">3</text>
<text x="429.18" y="591.30" font-size="46.4" font-style="italic" fill="#000" textLength="31.48" lengthAdjust="spacingAndGlyphs">R</text>
<path d="M478.6 558.6L463.1 601.6" stroke="#000" stroke-width="1.9" fill="none"/>
<text x="485.94" y="591.30" font-size="43.7" font-style="italic" fill="#000" textLength="20.22" lengthAdjust="spacingAndGlyphs">λ</text>
<g transform="translate(38.8 320) rotate(-90)" fill="#000">
<text x="0.09" y="0.00" font-size="40.7" font-style="italic" textLength="23.41" lengthAdjust="spacingAndGlyphs">σ</text>
<text x="25.56" y="-16.80" font-size="31.4" textLength="16.34" lengthAdjust="spacingAndGlyphs">2</text>
<text x="26.45" y="10.40" font-size="34.4" font-style="italic" textLength="22.49" lengthAdjust="spacingAndGlyphs">N</text>
<text x="55.81" y="0.00" font-size="49.6" textLength="12.84" lengthAdjust="spacingAndGlyphs">(</text>
<text x="71.28" y="0.00" font-size="49.6" font-style="italic" textLength="32.09" lengthAdjust="spacingAndGlyphs">R</text>
<text x="102.47" y="0.00" font-size="49.6" textLength="13.74" lengthAdjust="spacingAndGlyphs">)</text>
</g>
</g>
<path d="M401.9 34.2h17.6M401.9 30.2v8M419.5 30.2v8" stroke="#000" stroke-width="2" fill="none"/>
<path d="M410.7 29.75v8.9" stroke="#000" stroke-width="2" fill="none"/>
<path d="M401.9 77.3h17.6M401.9 73.3v8M419.5 73.3v8" stroke="#00f" stroke-width="2" fill="none"/>
<circle cx="410.7" cy="77.3" r="4.3" stroke="#00f" stroke-width="2" fill="none"/>
<path d="M401.9 120.5h17.6M401.9 116.5v8M419.5 116.5v8" stroke="#f00" stroke-width="2" fill="none"/>
<rect x="406.05" y="115.85" width="9.3" height="9.3" stroke="#f00" stroke-width="2.1" fill="none"/>
<path d="M401.9 163.5h17.6M401.9 159.5v8M419.5 159.5v8" stroke="#ffa500" stroke-width="2" fill="none"/>
<path d="M410.7 157.3l6.2 6.2l-6.2 6.2l-6.2 -6.2z" stroke="#ffa500" stroke-width="2" fill="none"/>
</svg>
</body></html>
